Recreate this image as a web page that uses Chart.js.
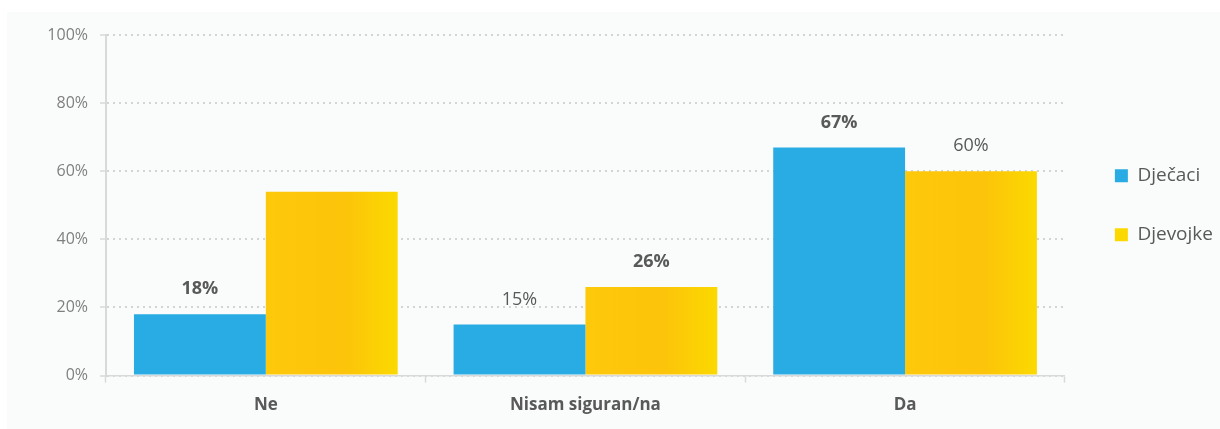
<!DOCTYPE html>
<html>
<head>
<meta charset="utf-8">
<script src="https://cdn.jsdelivr.net/npm/chart.js@4"></script>
<style>
html,body{margin:0;padding:0;background:#ffffff;}
#wrap{position:absolute;left:7px;top:12px;width:1213px;height:417px;background:#fafcfc;}
</style>
</head>
<body>
<div id="wrap"><canvas id="c"></canvas></div>
<script>
const categories = ['Ne', 'Nisam siguran/na', 'Da'];
const seriesNames = ['Dječaci', 'Djevojke'];
const boysValues = [18, 15, 67];
const girlsValues = [54, 26, 60];
const boysLabels = ['18%', '15%', '67%'];
const girlsLabels = ['', '26%', '60%'];
const boysLabelBold = [true, false, true];
const girlsLabelBold = [false, true, false];
const yTickValues = [0, 20, 40, 60, 80, 100];

const FONT = "'Open Sans', 'DejaVu Sans', sans-serif";
const BLUE = '#29ace3';
const YELLOW = '#fdc60b';
const CAT_PCT = 0.825;

function yellowGradient(ctx) {
  const chart = ctx.chart;
  const xs = chart.scales && chart.scales.x;
  if (ctx.type !== 'data' || !xs || !chart.chartArea) return YELLOW;
  const center = xs.getPixelForValue(ctx.dataIndex);
  const catW = xs.width / categories.length;
  const bw = catW * CAT_PCT / 2;
  const g = chart.ctx.createLinearGradient(center, 0, center + bw, 0);
  g.addColorStop(0, '#fec80b');
  g.addColorStop(0.6, '#fcc40a');
  g.addColorStop(1, '#fbd900');
  return g;
}

const valueLabels = {
  id: 'valueLabels',
  afterDatasetsDraw(chart) {
    const c = chart.ctx;
    const texts = [boysLabels, girlsLabels];
    const bolds = [boysLabelBold, girlsLabelBold];
    chart.data.datasets.forEach((ds, di) => {
      const meta = chart.getDatasetMeta(di);
      meta.data.forEach((el, i) => {
        const t = texts[di][i];
        if (!t) return;
        c.save();
        c.font = (bolds[di][i] ? 'bold ' : '') + '18px ' + FONT;
        c.fillStyle = '#595959';
        c.textAlign = 'center';
        c.textBaseline = 'middle';
        c.fillText(t, el.x, el.y - 25);
        c.restore();
      });
    });
  }
};

new Chart(document.getElementById('c'), {
  type: 'bar',
  data: {
    labels: categories,
    datasets: [
      { label: seriesNames[0], data: boysValues, backgroundColor: BLUE, borderWidth: 0,
        categoryPercentage: CAT_PCT, barPercentage: 1 },
      { label: seriesNames[1], data: girlsValues, backgroundColor: yellowGradient, borderWidth: 0,
        categoryPercentage: CAT_PCT, barPercentage: 1 }
    ]
  },
  options: {
    responsive: true,
    maintainAspectRatio: false,
    animation: false,
    layout: { padding: { left: 39, top: 23, bottom: 2, right: -3 } },
    plugins: {
      tooltip: { enabled: false },
      legend: {
        position: 'right',
        fullSize: false,
        labels: {
          boxWidth: 13, boxHeight: 13, padding: 40,
          color: '#595959',
          font: { family: FONT, size: 19 }
        }
      }
    },
    scales: {
      x: {
        grid: { display: true, drawOnChartArea: false, offset: true, tickLength: 7,
                tickColor: '#d9d9d9', tickWidth: 1.5 },
        border: { display: true, color: '#d9d9d9', width: 1.5 },
        ticks: { color: '#595959', padding: 12, font: { family: FONT, size: 17, weight: 'bold' } }
      },
      y: {
        min: 0, max: 100,
        afterBuildTicks(s) { s.ticks = yTickValues.map(v => ({ value: v })); },
        afterFit(s) { s.width = 60; },
        ticks: { callback: v => v + '%', color: '#7f7f7f', padding: 12,
                 font: { family: FONT, size: 16 } },
        grid: { color: '#d4d4d4', lineWidth: 2, tickLength: 6, tickColor: '#d9d9d9', tickWidth: 1.5,
                tickBorderDash: [] },
        border: { display: true, color: '#d9d9d9', width: 2, dash: [2, 4] }
      },
      yR: {
        position: 'right',
        display: true,
        grid: { display: false },
        border: { display: false },
        ticks: { display: false },
        afterFit(s) { s.width = 10; }
      }
    }
  },
  plugins: [valueLabels]
});
</script>
</body>
</html>
